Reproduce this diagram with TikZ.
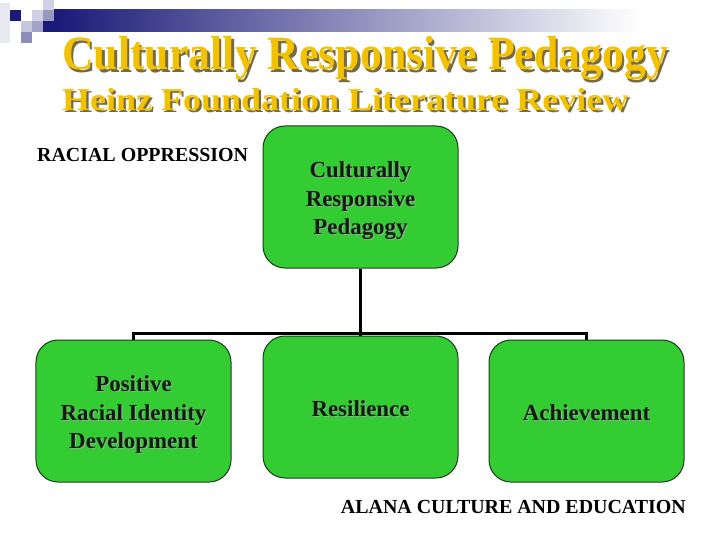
\documentclass[tikz,border=0pt]{standalone}
\usepackage{fontspec}
\setmainfont{Liberation Serif}
\usepackage{xcolor}
\usepackage{graphicx}
\usetikzlibrary{positioning}

\definecolor{boxgreen}{HTML}{33CC33}
\definecolor{boxline}{HTML}{1F3A1F}
\definecolor{boxtext}{HTML}{0F1F0F}
\definecolor{boxshadow}{HTML}{8FB08F}
\definecolor{titlegold}{HTML}{F2C200}
\definecolor{titleshadow}{HTML}{7A6A40}
\definecolor{navy}{HTML}{1A1A78}

% text with a drop shadow, one line
\newcommand{\shline}[3]{\makebox[0pt][l]{\hspace{#3}\raisebox{-#3}{\color{#1}#2}}#2}
% text with a drop shadow, several lines
\newcommand{\shblock}[2]{\raisebox{-4bp}[\height][\depth]{\makebox[0pt][l]{\hspace{1.2bp}\raisebox{-1.2bp}{\color{#1}\begin{tabular}{@{}c@{}}#2\end{tabular}}}\begin{tabular}{@{}c@{}}#2\end{tabular}}}

\tikzset{
  greenbox/.style={draw=boxline, fill=boxgreen, line width=1bp, rounded corners=22bp,
    minimum width=195bp, minimum height=142bp, inner sep=0pt,
    font=\bfseries\fontsize{23}{28.5}\selectfont, text=boxtext},
  link/.style={line width=3bp, black},
  heading/.style={anchor=base west, inner sep=0pt, text=titlegold, font=\bfseries},
  plainlabel/.style={inner sep=0pt, font=\bfseries\fontsize{20}{22}\selectfont}
}

\begin{document}
\begin{tikzpicture}[x=1bp,y=-1bp]
\useasboundingbox (0,0) rectangle (720,540);

% Corner squares and fading bar
\shade[left color=navy, right color=white] (54,10) rectangle (640,32);
\fill[navy!10] (0,3) rectangle (10,43);
\fill[navy] (10,10) rectangle (21,21);
\fill[navy!25] (21,21) rectangle (32,32);
\fill[navy!50] (21,32) rectangle (32,43);
\fill[navy!20] (32,10) rectangle (43,21);
\fill[navy!40] (32,21) rectangle (43,32);
\fill[navy!20] (43,0) rectangle (54,10);
\fill[navy!45] (43,10) rectangle (54,21);
\fill[navy] (43,21) rectangle (54,32);

% Title lines
\node[heading, font=\bfseries\fontsize{48}{54}\selectfont] (title) at (62,70)
  {\resizebox{606bp}{\height}{\shline{titleshadow}{Culturally Responsive Pedagogy}{2.5bp}}};
\node[heading, font=\bfseries\fontsize{32}{38}\selectfont] (subtitle) at (62,111)
  {\resizebox{566bp}{\height}{\shline{titleshadow}{Heinz Foundation Literature Review}{2bp}}};

% Side labels
\node[plainlabel, anchor=base west] (oppression) at (37,162) {RACIAL OPPRESSION};
\node[plainlabel, anchor=base east] (alana) at (686,513) {ALANA CULTURE AND EDUCATION};

% Boxes
\node[greenbox] (crp) at (360.5,197) {\shblock{boxshadow}{Culturally\\Responsive\\ Pedagogy}};
\node[greenbox] (identity) at (133.5,411) {\shblock{boxshadow}{Positive\\Racial Identity\\Development}};
\node[greenbox] (resilience) at (360.5,407) {\shblock{boxshadow}{Resilience}};
\node[greenbox] (achieve) at (586.5,411) {\shblock{boxshadow}{Achievement}};

% Connectors
\coordinate (hub) at (360.5,333);
\draw[link] (crp.south) -- (hub);
\draw[link] (hub) -- (resilience.north);
\draw[link] (hub) -| (identity.north);
\draw[link] (hub) -| (achieve.north);
\end{tikzpicture}
\end{document}
